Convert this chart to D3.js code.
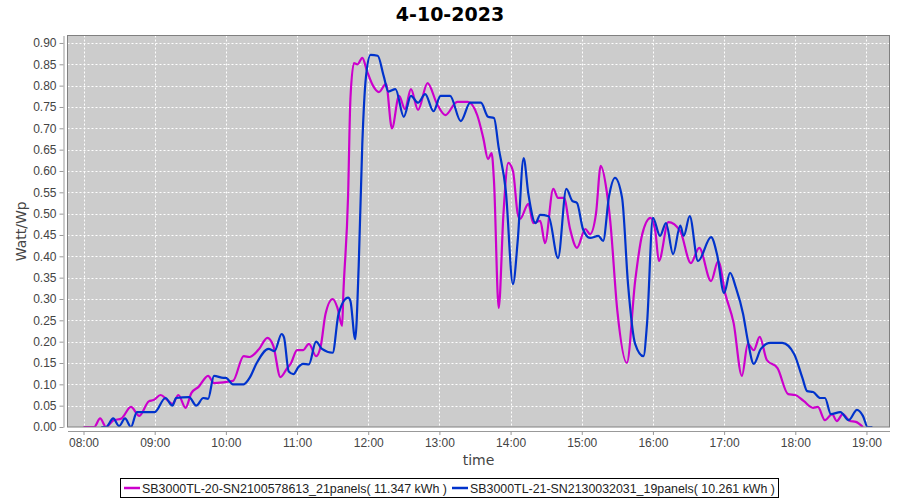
<!DOCTYPE html>
<html>
<head>
<meta charset="utf-8">
<script src="https://cdn.jsdelivr.net/npm/d3@7"></script>
<style>
  html, body { margin: 0; padding: 0; background: #ffffff; }
  svg { display: block; }
</style>
</head>
<body>
<svg id="chart" width="900" height="500"></svg>
<script>
const chartTitle = "4-10-2023";
const xAxisTitle = "time";
const yAxisTitle = "Watt/Wp";
const seriesNames = [
  "SB3000TL-20-SN2100578613_21panels( 11.347 kWh )",
  "SB3000TL-21-SN2130032031_19panels( 10.261 kWh )"
];
const seriesColors = ["#cc00cc", "#0033cc"];
const xTickLabels = ["08:00","09:00","10:00","11:00","12:00","13:00","14:00","15:00","16:00","17:00","18:00","19:00"];
const yTickValues = [0,0.05,0.10,0.15,0.20,0.25,0.30,0.35,0.40,0.45,0.50,0.55,0.60,0.65,0.70,0.75,0.80,0.85,0.90];

const s1Times = ["08:00","08:09","08:14","08:19","08:25","08:32","08:40","08:47","08:55","08:59","09:05","09:10","09:15","09:20","09:26","09:31","09:37","09:45","09:50","10:06","10:15","10:20","10:28","10:35","10:40","10:46","10:51","10:55","11:00","11:05","11:10","11:16","11:20","11:24","11:30","11:34","11:38","11:39","11:43","11:45","11:48","11:51","11:55","11:59","12:04","12:09","12:15","12:20","12:26","12:31","12:36","12:42","12:50","12:58","13:05","13:15","13:24","13:32","13:37","13:41","13:44","13:46","13:50","13:54","13:58","14:02","14:06","14:08","14:15","14:19","14:25","14:29","14:36","14:40","14:45","14:50","14:56","15:03","15:07","15:12","15:16","15:21","15:24","15:30","15:38","15:45","15:51","15:58","16:02","16:05","16:13","16:23","16:32","16:39","16:49","16:55","17:01","17:08","17:15","17:20","17:25","17:30","17:36","17:45","17:54","18:00","18:07","18:15","18:19","18:25","18:31","18:35","18:40","18:46","18:51","18:57"];
const s1Values = [0,0,0.02,0.0,0.015,0.02,0.047,0.026,0.06,0.063,0.075,0.065,0.054,0.075,0.045,0.08,0.094,0.12,0.103,0.108,0.166,0.164,0.183,0.209,0.19,0.117,0.135,0.15,0.18,0.18,0.195,0.166,0.19,0.265,0.3,0.28,0.237,0.31,0.54,0.77,0.853,0.85,0.865,0.834,0.8,0.785,0.804,0.7,0.776,0.745,0.792,0.743,0.806,0.757,0.731,0.762,0.762,0.73,0.677,0.628,0.642,0.577,0.279,0.5,0.619,0.6,0.5,0.488,0.523,0.478,0.483,0.431,0.558,0.537,0.537,0.466,0.42,0.464,0.452,0.5,0.612,0.553,0.483,0.272,0.15,0.342,0.452,0.49,0.459,0.389,0.48,0.459,0.384,0.42,0.342,0.389,0.312,0.244,0.12,0.195,0.18,0.211,0.157,0.138,0.077,0.075,0.061,0.045,0.047,0.016,0.03,0.014,0.03,0.014,0.012,0.0];

const s2Times = ["08:15","08:19","08:25","08:30","08:35","08:40","08:45","08:49","09:00","09:09","09:15","09:18","09:29","09:35","09:41","09:45","09:50","09:58","10:00","10:06","10:15","10:20","10:26","10:36","10:41","10:47","10:49","10:53","10:57","11:01","11:05","11:10","11:16","11:21","11:30","11:35","11:43","11:45","11:49","11:52","11:55","11:58","12:02","12:08","12:13","12:17","12:23","12:30","12:36","12:42","12:48","12:55","13:01","13:09","13:18","13:26","13:35","13:41","13:46","13:50","13:56","14:02","14:06","14:11","14:15","14:21","14:25","14:32","14:40","14:47","14:52","14:56","15:01","15:07","15:14","15:18","15:23","15:28","15:34","15:39","15:45","15:52","15:55","16:00","16:06","16:11","16:17","16:23","16:26","16:31","16:38","16:49","16:54","17:00","17:05","17:10","17:16","17:20","17:25","17:31","17:39","17:49","17:59","18:06","18:10","18:15","18:21","18:25","18:30","18:38","18:45","18:52","18:57","19:01","19:05"];
const s2Values = [0,0.0,0.02,0.002,0.02,0.0,0.035,0.035,0.035,0.068,0.05,0.068,0.07,0.05,0.068,0.066,0.12,0.115,0.115,0.1,0.1,0.115,0.15,0.183,0.178,0.218,0.21,0.13,0.124,0.14,0.148,0.147,0.2,0.183,0.174,0.265,0.303,0.295,0.206,0.38,0.663,0.818,0.872,0.87,0.823,0.786,0.792,0.727,0.776,0.76,0.78,0.74,0.776,0.776,0.717,0.76,0.76,0.727,0.724,0.654,0.553,0.335,0.436,0.63,0.546,0.478,0.497,0.494,0.396,0.558,0.53,0.525,0.464,0.443,0.448,0.436,0.541,0.584,0.537,0.335,0.195,0.166,0.241,0.49,0.448,0.478,0.405,0.472,0.448,0.494,0.389,0.445,0.405,0.314,0.361,0.326,0.265,0.202,0.148,0.183,0.197,0.197,0.171,0.115,0.084,0.082,0.068,0.068,0.03,0.035,0.016,0.04,0.026,0.0,0.0];

const parseT = d3.timeParse("%H:%M");
const parseTS = d3.timeParse("%H:%M:%S");

const svg = d3.select("#chart");
const plot = { left: 67.5, right: 889.5, top: 35.5, bottom: 427 };

const x = d3.scaleTime()
  .domain([parseTS("07:46:30"), parseTS("19:19:25")])
  .range([plot.left, plot.right]);
const y = d3.scaleLinear()
  .domain([0, 0.9175])
  .range([plot.bottom, plot.top]);

// title
svg.append("text")
  .attr("x", 450).attr("y", 21)
  .attr("text-anchor", "middle")
  .style("font-family", "'DejaVu Sans', sans-serif")
  .style("font-weight", "bold")
  .style("font-size", "19px")
  .attr("fill", "#000")
  .text(chartTitle);

// plot background
svg.append("rect")
  .attr("x", plot.left).attr("y", plot.top)
  .attr("width", plot.right - plot.left).attr("height", plot.bottom - plot.top)
  .attr("fill", "#cccccc");

// gridlines
const grid = svg.append("g");
grid.selectAll("line.h").data(yTickValues).enter().append("line")
  .attr("x1", plot.left).attr("x2", plot.right)
  .attr("y1", d => Math.round(y(d)) + 0.5).attr("y2", d => Math.round(y(d)) + 0.5)
  .attr("stroke", "#ffffff").attr("stroke-width", 1).attr("stroke-dasharray", "2,2");
grid.selectAll("line.v").data(xTickLabels.map(parseT)).enter().append("line")
  .attr("y1", plot.top).attr("y2", plot.bottom)
  .attr("x1", d => Math.round(x(d)) + 0.5).attr("x2", d => Math.round(x(d)) + 0.5)
  .attr("stroke", "#ffffff").attr("stroke-width", 1).attr("stroke-dasharray", "2,2");

// lines
const clip = svg.append("clipPath").attr("id", "clip").append("rect")
  .attr("x", plot.left).attr("y", plot.top - 2)
  .attr("width", plot.right - plot.left).attr("height", plot.bottom - plot.top + 2);

const line = d3.line()
  .x(d => x(d.t)).y(d => y(d.v))
  .curve(d3.curveMonotoneX);

const series = [
  s1Times.map((t, i) => ({ t: parseT(t), v: s1Values[i] })),
  s2Times.map((t, i) => ({ t: parseT(t), v: s2Values[i] }))
];
const lineG = svg.append("g").attr("clip-path", "url(#clip)");
series.forEach((s, i) => {
  lineG.append("path").datum(s)
    .attr("d", line)
    .attr("fill", "none")
    .attr("stroke", seriesColors[i])
    .attr("stroke-width", 2.2)
    .attr("stroke-linejoin", "round");
});

// plot outline
svg.append("rect")
  .attr("x", plot.left).attr("y", plot.top)
  .attr("width", plot.right - plot.left).attr("height", plot.bottom - plot.top)
  .attr("fill", "none").attr("stroke", "#808080").attr("stroke-width", 1);

// axes
const xAxis = d3.axisBottom(x)
  .tickValues(xTickLabels.map(parseT))
  .tickFormat(d3.timeFormat("%H:%M"))
  .tickSizeOuter(0).tickSizeInner(4).tickPadding(3);
const gx = svg.append("g").attr("transform", `translate(0,${plot.bottom + 4})`).call(xAxis);
const yAxis = d3.axisLeft(y)
  .tickValues(yTickValues)
  .tickFormat(d3.format(".2f"))
  .tickSizeOuter(0).tickSizeInner(4).tickPadding(3);
const gy = svg.append("g").attr("transform", `translate(${plot.left - 4},0)`).call(yAxis);
[gx, gy].forEach(g => {
  g.select(".domain").attr("stroke", "#999999");
  g.selectAll(".tick line").attr("stroke", "#999999");
  g.selectAll(".tick text")
    .style("font-family", "'Liberation Sans', Arial, sans-serif")
    .style("font-size", "12px")
    .attr("fill", "#444444");
});

// axis titles
svg.append("text")
  .attr("x", (plot.left + plot.right) / 2).attr("y", 465)
  .attr("text-anchor", "middle")
  .style("font-family", "'DejaVu Sans', sans-serif")
  .style("font-size", "14px")
  .attr("fill", "#444444")
  .text(xAxisTitle);
svg.append("text")
  .attr("transform", `translate(26,${(plot.top + plot.bottom) / 2}) rotate(-90)`)
  .attr("text-anchor", "middle")
  .style("font-family", "'DejaVu Sans', sans-serif")
  .style("font-size", "14px")
  .attr("fill", "#444444")
  .text(yAxisTitle);

// legend
const legend = svg.append("g");
const legendItemX = [124, 452];
seriesNames.forEach((name, i) => {
  const gx0 = legendItemX[i];
  legend.append("line")
    .attr("x1", gx0).attr("x2", gx0 + 16)
    .attr("y1", 488).attr("y2", 488)
    .attr("stroke", seriesColors[i]).attr("stroke-width", 2.5);
  legend.append("text")
    .attr("x", gx0 + 18).attr("y", 492.5)
    .style("font-family", "'Liberation Sans', Arial, sans-serif")
    .style("font-size", "12px")
    .attr("fill", "#222222")
    .attr("textLength", i === 0 ? 305 : 305)
    .attr("lengthAdjust", "spacingAndGlyphs")
    .text(name);
});
legend.append("rect")
  .attr("x", 120.5).attr("y", 478.5)
  .attr("width", 658).attr("height", 19)
  .attr("fill", "none").attr("stroke", "#000000").attr("stroke-width", 1);
</script>
</body>
</html>
